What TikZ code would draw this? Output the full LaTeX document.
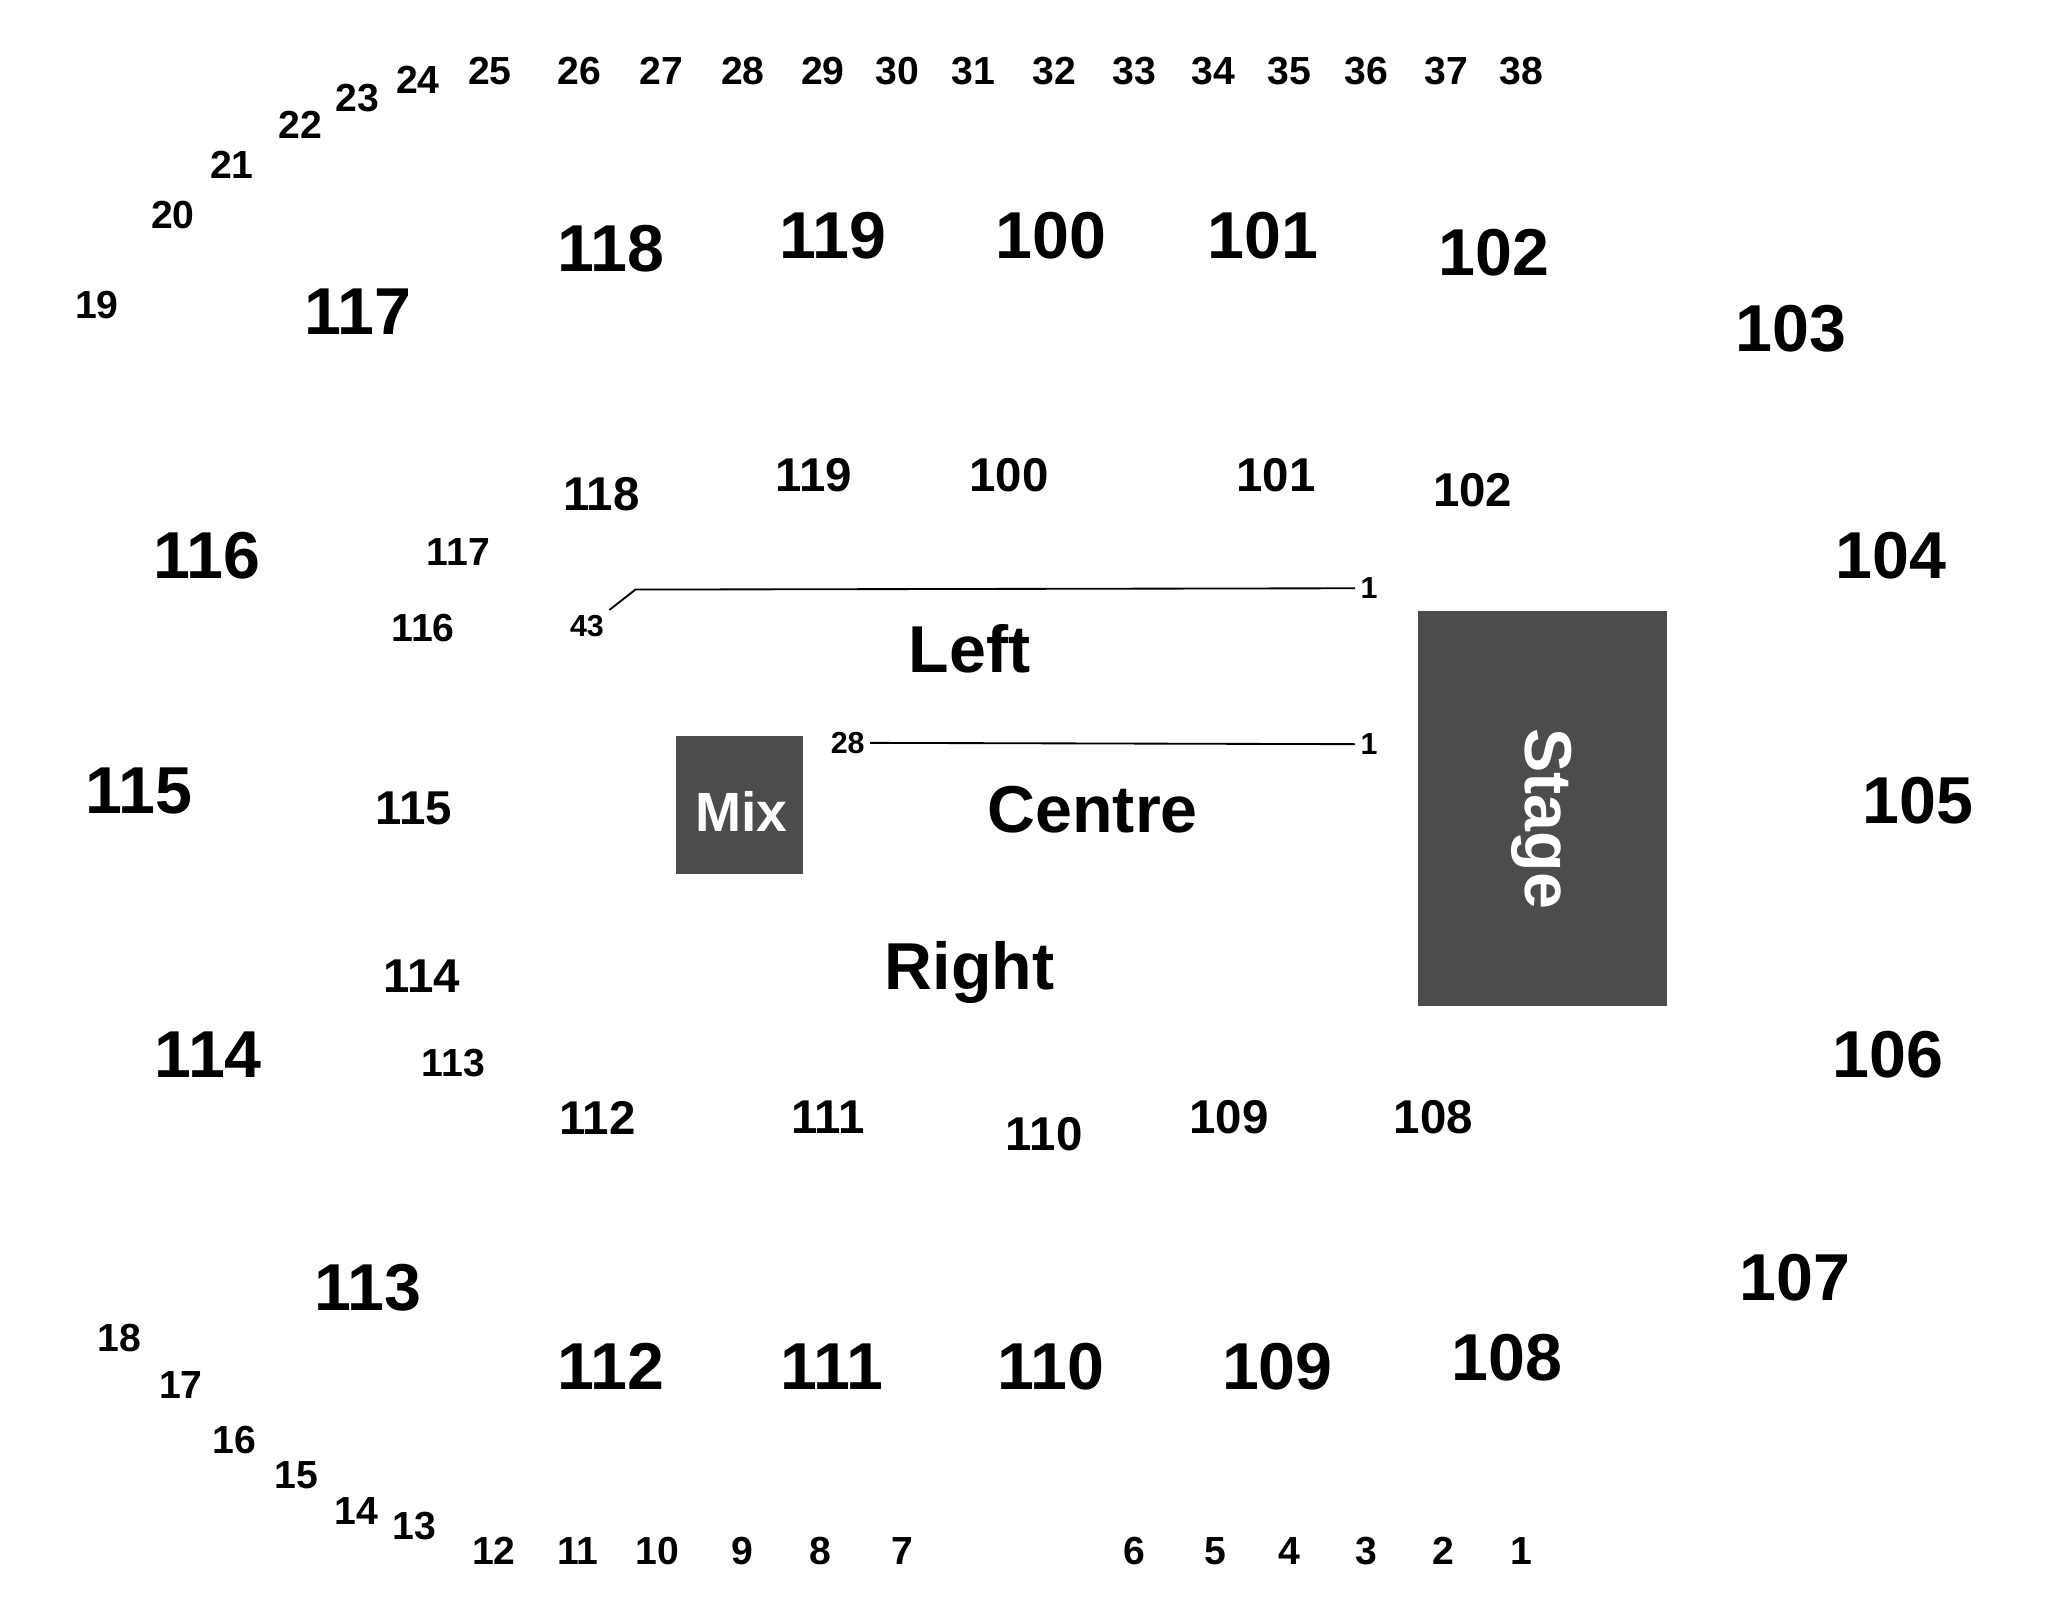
\documentclass[tikz,border=0pt]{standalone}
\usepackage{fontspec}
\setmainfont{Liberation Sans}
\begin{document}
\begin{tikzpicture}[x=0.01cm,y=-0.01cm,
 big/.style={font=\fontsize{14.4}{15}\selectfont\bfseries},
 mid/.style={font=\fontsize{10.3}{11}\selectfont\bfseries},
 sm/.style={font=\fontsize{8.5}{9}\selectfont\bfseries},
 tiny/.style={font=\fontsize{6.6}{7}\selectfont\bfseries,inner sep=1pt},
 box/.style={fill=black!70,draw=none}]
\useasboundingbox (0,0) rectangle (1567,1224);
% outer big labels
\foreach \t/\x/\y in {118/466/190,119/636/180,100/802/180,101/964/180,102/1140/193,103/1367/251,117/273/238,116/158/424,104/1443/424,115/106/604,105/1464/611,114/159/805,106/1441/805,107/1370/975,113/281/983,112/466/1043,111/635/1043,110/802/1043,109/975/1043,108/1150/1036}
  \node[big] (b\t\x) at (\x,\y) {\t};
% mid labels
\foreach \t/\x/\y in {118/459/377,119/621/363,100/770/363,101/974/363,102/1124/374,115/316/617,114/322/745,112/456/853,111/632/853,110/797/866,109/938/853,108/1094/853}
  \node[mid] (m\t\x) at (\x,\y) {\t};
\foreach \t/\x/\y in {117/350/421,116/323/479,113/346/811}
  \node[sm] (s\t\x) at (\x,\y) {\t};
% row numbers
\foreach \t/\x/\y in {19/74/233,20/132/164,21/177/126,22/229/95,23/273/75,24/319/61,25/374/54,26/442/54,27/505/54,28/567/54,29/628/54,30/685/54,31/743/54,32/805/54,33/866/54,34/926/54,35/984/54,36/1043/54,37/1104/54,38/1161/54,
 18/91/1021,17/138/1057,16/179/1099,15/226/1126,14/272/1153,13/316/1165,12/377/1184,11/441/1184,10/502/1184,9/567/1184,8/626/1184,7/689/1184,6/866/1184,5/928/1184,4/984/1184,3/1043/1184,2/1102/1184,1/1161/1184}
  \node[sm] (r\t\x) at (\x,\y) {\t};
% rows in floor
\node[tiny] (a43) at (448,478) {43};
\node[tiny] (a1) at (1045,449) {1};
\node[tiny] (c28) at (647,567) {28};
\node[tiny] (c1) at (1045,568) {1};
\coordinate (k) at (485,450);
\draw[thin] (a43.north east) -- (k) -- (a1.west);
\draw[thin] (c28.east) -- (c1.west);
\node[big] (left) at (740,495) {Left};
\node[big] (centre) at (834,618) {Centre};
\node[big] (right) at (740,742) {Right};
\fill[box] (1082,466) rectangle (1272,768);
\node[big,text=white,rotate=-90] (stage) at (1177,625) {Stage};
\fill[box] (516,562) rectangle (613,667);
\node[text=white,font=\fontsize{12}{13}\selectfont\bfseries] (mix) at (566,619) {Mix};
\end{tikzpicture}
\end{document}
